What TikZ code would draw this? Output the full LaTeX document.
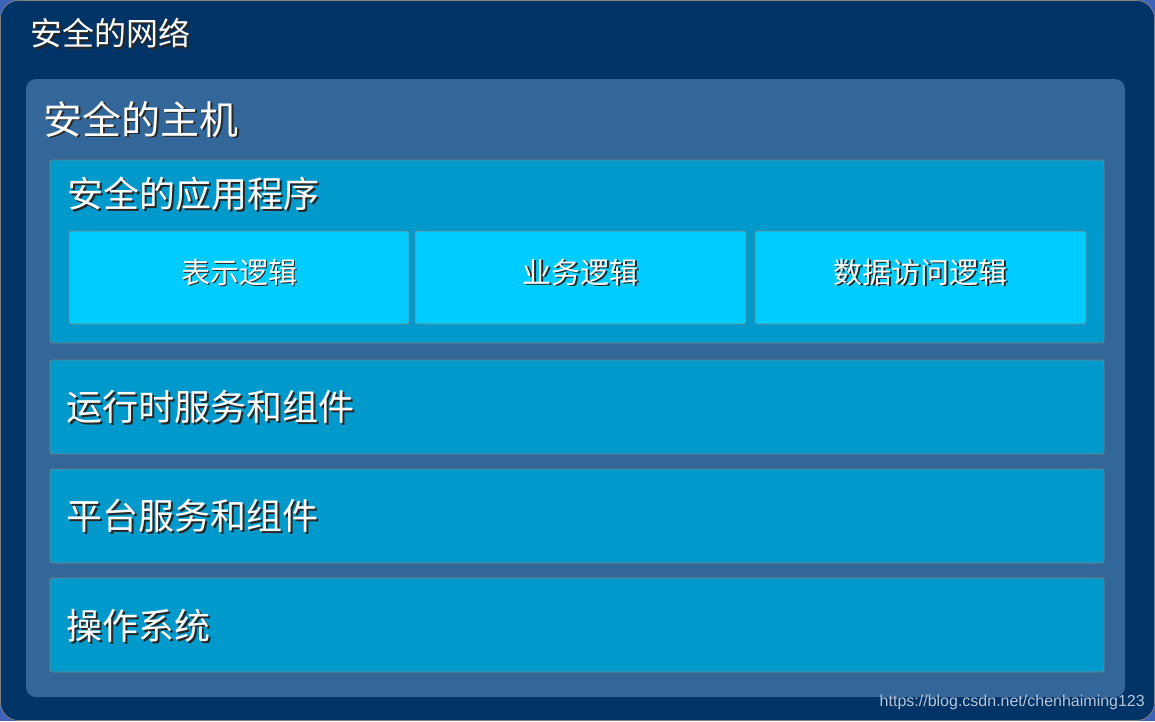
\documentclass[tikz,border=0pt]{standalone}
\usepackage{fontspec}
\setmainfont{Noto Sans CJK SC}
\newfontfamily\wmfont{Liberation Sans}
\definecolor{bgc}{HTML}{3F63B8}
\definecolor{netc}{HTML}{003366}
\definecolor{hostc}{HTML}{336699}
\definecolor{appc}{HTML}{0099CC}
\definecolor{modc}{HTML}{00CCFF}
\definecolor{edgec}{HTML}{808080}
\definecolor{wmc}{HTML}{B8C4D8}
\newcommand\shtxt[1]{\makebox[0pt][l]{\raisebox{-1.8pt}{\hspace{1.8pt}\color{black!85}#1}}#1}
\tikzset{
  netbox/.style={fill=netc, draw=edgec, line width=0.8pt, rounded corners=18pt},
  hostbox/.style={fill=hostc, rounded corners=10pt},
  layerbox/.style={fill=appc, draw=edgec, line width=0.8pt, rounded corners=2pt},
  modbox/.style={fill=modc, draw=edgec, line width=0.8pt, rounded corners=2pt},
  ttl/.style={text=white, anchor=west, inner sep=0pt},
  modtxt/.style={text=white, inner sep=0pt, font=\fontsize{29}{32}\selectfont},
}
\begin{document}
\begin{tikzpicture}[x=1pt,y=-1pt]
\fill[bgc] (0,0) rectangle (1155,721);
\useasboundingbox (0,0) rectangle (1155,721);
\path[netbox] (0.5,0.5) rectangle (1154.5,720.5);
\node[ttl, font=\fontsize{32}{36}\selectfont] (net) at (30,34) {\shtxt{安全的网络}};
\path[hostbox] (26,79) rectangle (1125,697);
\node[ttl, font=\fontsize{39}{44}\selectfont] (host) at (43,120) {\shtxt{安全的主机}};
\path[layerbox] (50,160) rectangle (1104,343);
\node[ttl, font=\fontsize{36}{40}\selectfont] (app) at (67,195) {\shtxt{安全的应用程序}};
\path[modbox] (69,231) rectangle (409,324);
\path[modbox] (415,231) rectangle (746,324);
\path[modbox] (755,231) rectangle (1086,324);
\node[modtxt] (m1) at (239,273) {\shtxt{表示逻辑}};
\node[modtxt] (m2) at (580.5,273) {\shtxt{业务逻辑}};
\node[modtxt] (m3) at (920.5,273) {\shtxt{数据访问逻辑}};
\path[layerbox] (50,360) rectangle (1104,454);
\node[ttl, font=\fontsize{36}{40}\selectfont] (rt) at (66,408) {\shtxt{运行时服务和组件}};
\path[layerbox] (50,469) rectangle (1104,563);
\node[ttl, font=\fontsize{36}{40}\selectfont] (pf) at (66,517) {\shtxt{平台服务和组件}};
\path[layerbox] (50,578) rectangle (1104,672);
\node[ttl, font=\fontsize{36}{40}\selectfont] (os) at (66,627) {\shtxt{操作系统}};
\node[anchor=east, inner sep=0pt, text=wmc, font=\wmfont\fontsize{16}{18}\selectfont] (wm) at (1145,702) {https://blog.csdn.net/chenhaiming123};
\end{tikzpicture}
\end{document}
